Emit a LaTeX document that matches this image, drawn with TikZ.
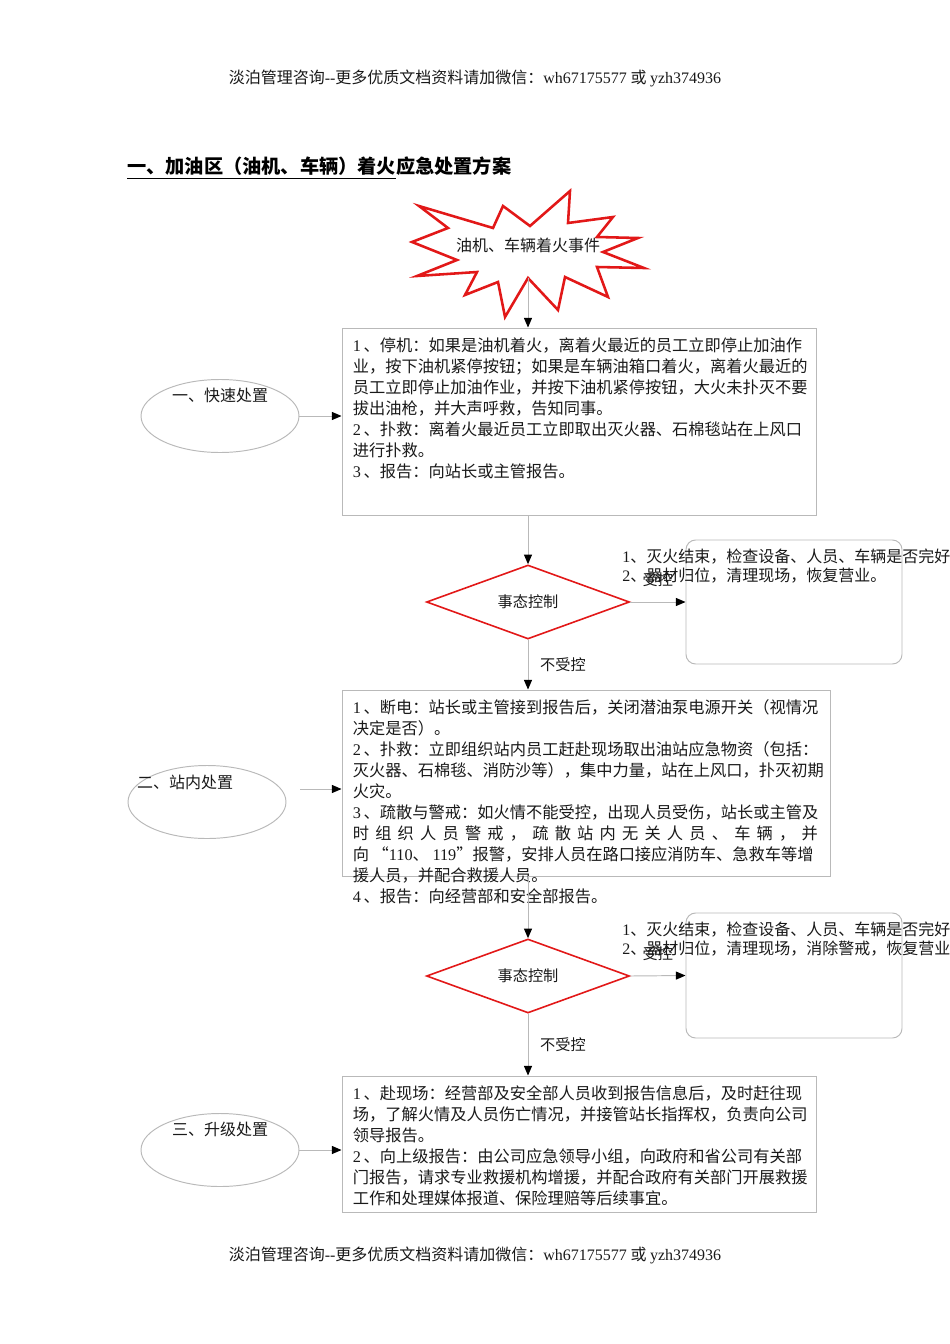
\documentclass[tikz,border=0pt]{standalone}
\usepackage{fontspec}
\setmainfont{Noto Sans CJK SC}
\newfontfamily\latserif{Liberation Serif}
\usetikzlibrary{
    positioning,
    shapes.geometric,
    arrows.meta
    }
\newdimen\pxu
\pxu=0.625pt
\newcommand\dig[1]{{\latserif #1}}
\definecolor{flame}{RGB}{226,24,24}
\definecolor{rule}{RGB}{185,185,185}
\definecolor{ink}{RGB}{25,25,25}

\begin{document}
\begin{tikzpicture}[x=0.625pt, y=-0.625pt]
\tikzset{panel/.style =
        {
            rectangle,
            draw=rule,
            line width=0.6pt,
            inner sep=0pt
        }
}

\tikzset{body/.style =
        {
            anchor=north west,
            align=left,
            inner sep=0pt,
            text=ink,
            font=\fontsize{10.15}{13.125}\selectfont
        }
}

\tikzset{stage/.style =
        {
            ellipse,
            draw=rule,
            line width=0.6pt,
            minimum width=158\pxu,
            minimum height=73\pxu
        }
}

\tikzset{gate/.style =
        {
            diamond,
            draw=flame,
            line width=1pt,
            aspect=2.74,
            minimum width=203\pxu,
            minimum height=74\pxu,
            inner sep=0pt,
            text=ink,
            font=\fontsize{9.5}{11}\selectfont
        }
}

\tikzset{done/.style =
        {
            panel,
            rounded corners=6pt,
            minimum width=216\pxu
        }
}

\tikzset{note/.style =
        {
            align=left,
            inner sep=0pt,
            text=ink,
            font=\fontsize{10}{11.875}\selectfont
        }
}

\tikzset{tag/.style = { text=ink, font=\fontsize{9.5}{11}\selectfont } }

\tikzset{link/.style = {
            draw=rule,
            line width=0.6pt,
            -{Triangle[length=6pt, width=5pt, color=black]}
        }
}

\tikzset{burst/.style = {
            draw=flame,
            line width=1.6pt,
            line join=miter
        }
}
		\useasboundingbox (0,0) rectangle (950,1344);

		% header, footer and title
		\foreach \n / \y in {top/78, bottom/1255}
		\node[text=ink, font=\fontsize{10}{12}\selectfont] (page-\n) at (475,\y)
			{淡泊管理咨询\dig{--}更多优质文档资料请加微信：\dig{wh67175577} 或 \dig{yzh374936}};
		\node[anchor=west, inner sep=0pt, font=\fontsize{12}{14}\selectfont\bfseries] (title) at (127,168)
			{\underline{一、加油区（油机、车辆）着火}应急处置方案};

		% the fire event
		\draw[burst] (419,206) -- (493,228) -- (503,206) -- (530,226) -- (570,191) -- (568,223)
			-- (613,217) -- (597,237) -- (638,238) -- (603,252) -- (644,268) -- (597,267)
			-- (608,297) -- (565,277) -- (558,310) -- (528,278) -- (505,317) -- (498,282)
			-- (465,295) -- (477,272) -- (417,276) -- (457,260) -- (412,242) -- (448,228) -- cycle;
		\node[tag, font=\fontsize{10}{12}\selectfont, minimum height=66\pxu, inner sep=0pt] (fire) at (528,245) {油机、车辆着火事件};

		% stages on the left
		\foreach \n / \cx / \cy / \tx / \ty / \lab in
			{1/220/416/220/395/一、快速处置,
				2/207/802/185/782/二、站内处置,
				3/220/1150/220/1129/三、升级处置}
		{
			\node[stage] (stage-\n) at (\cx,\cy) {};
			\node[tag, font=\fontsize{10}{12}\selectfont] (stage-\n-text) at (\tx,\ty) {\lab};
		}

		% action boxes
		\node[panel, minimum width=474\pxu, minimum height=187\pxu] (box-1) at (579,421.5) {};
		\node[body] (box-1-text) at ([shift={(11,10)}]box-1.north west)
			{\dig{1}\,、停机：如果是油机着火，离着火最近的员工立即停止加油作\\
			业，按下油机紧停按钮；如果是车辆油箱口着火，离着火最近的\\
			员工立即停止加油作业，并按下油机紧停按钮，大火未扑灭不要\\
			拔出油枪，并大声呼救，告知同事。\\
			\dig{2}\,、扑救：离着火最近员工立即取出灭火器、石棉毯站在上风口\\
			进行扑救。\\
			\dig{3}\,、报告：向站长或主管报告。};

		\node[panel, minimum width=488\pxu, minimum height=186\pxu] (box-2) at (586,783) {};
		\node[body] (box-2-text) at ([shift={(11,10)}]box-2.north west)
			{\dig{1}\,、断电：站长或主管接到报告后，关闭潜油泵电源开关（视情况\\
			决定是否）。\\
			\dig{2}\,、扑救：立即组织站内员工赶赴现场取出油站应急物资（包括：\\
			灭火器、石棉毯、消防沙等），集中力量，站在上风口，扑灭初期\\
			火灾。\\
			\dig{3}\,、疏散与警戒：如火情不能受控，出现人员受伤，站长或主管及\\
			\makebox[465\pxu][s]{时 组 织 人 员 警 戒 ， 疏 散 站 内 无 关 人 员 、 车 辆 ， 并}\\
			向 “\dig{110}、 \dig{119}”报警，安排人员在路口接应消防车、急救车等增\\
			援人员，并配合救援人员。\\
			\dig{4}\,、报告：向经营部和安全部报告。};

		\node[panel, minimum width=474\pxu, minimum height=136\pxu] (box-3) at (579,1144) {};
		\node[body] (box-3-text) at ([shift={(11,10)}]box-3.north west)
			{\dig{1}\,、赴现场：经营部及安全部人员收到报告信息后，及时赶往现\\
			场，了解火情及人员伤亡情况，并接管站长指挥权，负责向公司\\
			领导报告。\\
			\dig{2}\,、向上级报告：由公司应急领导小组，向政府和省公司有关部\\
			门报告，请求专业救援机构增援，并配合政府有关部门开展救援\\
			工作和处理媒体报道、保险理赔等后续事宜。};

		% checks and the way out
		\foreach \n / \y in {1/602, 2/976}
		\node[gate] (gate-\n) at (528,\y) {事态控制};

		\node[done, minimum height=124\pxu] (done-1) at (794,602) {};
		\node[done, minimum height=125\pxu] (done-2) at (794,975.5) {};
		\node[note, anchor=west] (done-1-text) at (622,566.5)
			{\dig{1}、灭火结束，检查设备、人员、车辆是否完好\\\dig{2}、器材归位，清理现场，恢复营业。};
		\node[note, anchor=west] (done-2-text) at (622,939.5)
			{\dig{1}、灭火结束，检查设备、人员、车辆是否完好\\\dig{2}、器材归位，清理现场，消除警戒，恢复营业};

		% connectors
		\draw[link] (fire.south) -- (fire.south |- box-1.north);
		\foreach \a / \n in {box-1/1, box-2/2}
		\draw[link] (gate-\n.north |- \a.south) -- (gate-\n.north);
		\foreach \a / \b in {gate-1/box-2, gate-2/box-3}
		\draw[link] (\a.south) -- node[tag, right=4pt] {不受控} (\a.south |- \b.north);
		\foreach \n in {1,2}
		\draw[link] (gate-\n.east) -- node[tag, above=6pt] {受控} (done-\n.west);

		\coordinate (stage-2-out) at (300,789);
		\draw[link] (stage-1.east) -- (stage-1.east -| box-1.west);
		\draw[link] (stage-2-out) -- (stage-2-out -| box-2.west);
		\draw[link] (stage-3.east) -- (stage-3.east -| box-3.west);

	\end{tikzpicture}
\end{document}
